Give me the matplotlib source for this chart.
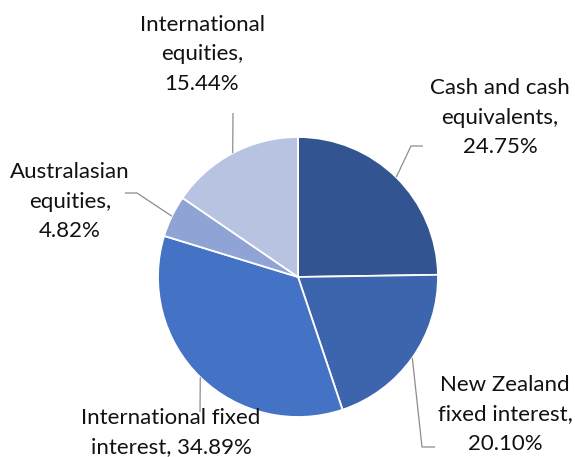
import numpy as np
import matplotlib
matplotlib.use("Agg")
import matplotlib.pyplot as plt

# data (clockwise from 12 o'clock)
labels = ["Cash and cash\nequivalents,\n24.75%",
          "New Zealand\nfixed interest,\n20.10%",
          "International fixed\ninterest, 34.89%",
          "Australasian\nequities,\n4.82%",
          "International\nequities,\n15.44%"]
values = [24.75, 20.10, 34.89, 4.82, 15.44]
colors = ["#325591", "#3C65AD", "#4472C4", "#8FA3D4", "#B8C3E2"]

W, H = 575, 457
fig = plt.figure(figsize=(W / 100, H / 100), dpi=100)
ax = fig.add_axes([0, 0, 1, 1])

cx, cy, r = 298, 277, 140   # pixel coords, y from top

def fy(y):
    return H - y

wedges, _ = ax.pie(values, colors=colors, startangle=90, counterclock=False,
                   center=(cx, fy(cy)), radius=r,
                   wedgeprops=dict(edgecolor="white", linewidth=1.3))
ax.set_xlim(0, W)
ax.set_ylim(0, H)
ax.set_aspect("equal")
ax.axis("off")

# label text centres (first line y) and leader elbows, pixel coords
label_pos = [(500, 88), (505, 385), (171, 418), (70, 172), (202, 25)]
elbows = [[(411, 146), (423, 146)],
          [(422, 447), (435, 447)],
          [(200, 412)],
          [(137, 193), (125, 193)],
          [(233, 113)]]

# leader lines from the middle of each slice edge
for w, el in zip(wedges, elbows):
    ang = np.deg2rad((w.theta1 + w.theta2) / 2)
    sx = cx + r * np.cos(ang)
    sy = cy - r * np.sin(ang)
    pts = [(sx, sy)] + el
    ax.plot([p[0] for p in pts], [fy(p[1]) for p in pts], color="#8c8c8c",
            lw=0.9, solid_capstyle="butt")

for lab, (lx, ly) in zip(labels, label_pos):
    for i, line in enumerate(lab.split("\n")):
        ax.text(lx, fy(ly + i * 29.5), line, ha="center", va="center",
                fontsize=16, family="Lato", color="#111111")

fig.savefig("out.png", dpi=100)
